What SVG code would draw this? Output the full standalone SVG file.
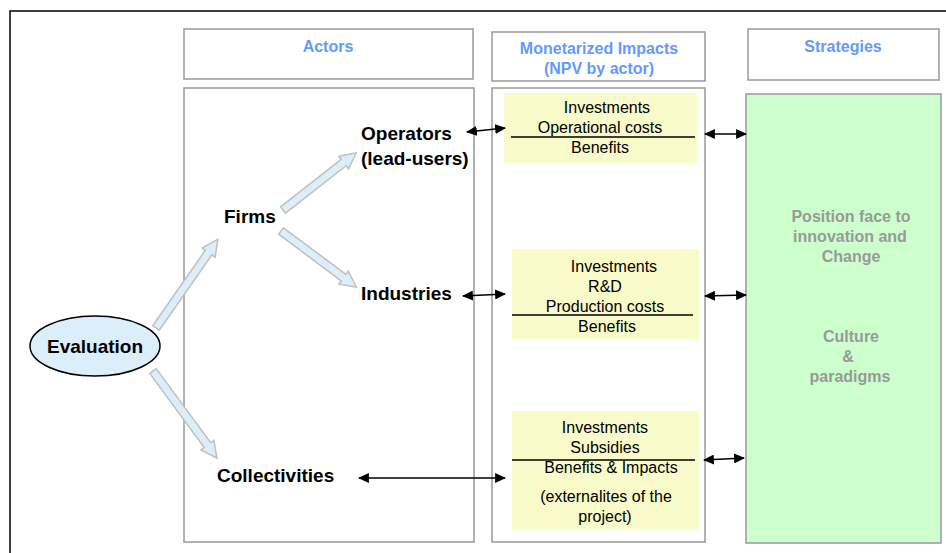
<svg xmlns="http://www.w3.org/2000/svg" width="946" height="553" viewBox="0 0 946 553">
<defs>
<style>
.box{fill:#fff;stroke:#999;stroke-width:1.5}
.hdr{font-family:"Liberation Sans",Arial,sans-serif;font-weight:bold;font-size:16px;fill:#6699ff;text-anchor:middle}
.act{font-family:"Liberation Sans",Arial,sans-serif;font-weight:bold;font-size:19px;fill:#000}
.yel{fill:#f9fbca}
.imp{font-family:"Liberation Sans",Arial,sans-serif;font-size:16px;fill:#000;text-anchor:middle}
.str{font-family:"Liberation Sans",Arial,sans-serif;font-weight:bold;font-size:16px;fill:#999;text-anchor:middle}
.blk{fill:#dceefa;stroke:#c0c0c0;stroke-width:1.5}
.con{stroke:#000;stroke-width:1.5;fill:none;marker-start:url(#ah);marker-end:url(#ah)}
.rule{stroke:#000;stroke-width:1.5}
</style>
<marker id="ah" viewBox="0 0 10 9" refX="9" refY="4.5" markerWidth="11" markerHeight="10" orient="auto-start-reverse" markerUnits="userSpaceOnUse">
<path d="M0,0 L10,4.5 L0,9 Z" fill="#000"/>
</marker>
</defs>
<rect x="0" y="0" width="946" height="553" fill="#fff"/>
<path d="M10,553 L10,11 L946,11" fill="none" stroke="#000" stroke-width="1.5"/>

<g id="actors-header"><rect class="box" x="184" y="29" width="289" height="50"/><text class="hdr" x="328" y="52">Actors</text></g>
<g id="actors-body"><rect class="box" x="184" y="88" width="290" height="454"/></g>
<g id="impacts-header"><rect class="box" x="492" y="32" width="213" height="49"/><text class="hdr" x="599" y="54">Monetarized Impacts</text><text class="hdr" x="599" y="74">(NPV by actor)</text></g>
<g id="impacts-body"><rect class="box" x="492" y="88" width="213" height="454"/></g>
<g id="strategies-header"><rect class="box" x="748" y="29" width="191" height="51"/><text class="hdr" x="843" y="52">Strategies</text></g>
<g id="strategies-body"><rect x="746" y="94" width="195" height="449" fill="#ccffcc" stroke="#999" stroke-width="1.5"/>
<text class="str" x="851" y="222">Position face to</text><text class="str" x="850" y="242">innovation and</text><text class="str" x="851" y="262">Change</text>
<text class="str" x="851" y="342">Culture</text><text class="str" x="848" y="362">&amp;</text><text class="str" x="850" y="382">paradigms</text></g>

<g id="impact-operators"><rect class="yel" x="504" y="93" width="193" height="70"/>
<text class="imp" x="607" y="113">Investments</text><text class="imp" x="600" y="133">Operational costs</text><line class="rule" x1="511" y1="137" x2="695" y2="137"/><text class="imp" x="600" y="153">Benefits</text></g>
<g id="impact-industries"><rect class="yel" x="512" y="249" width="187" height="90"/>
<text class="imp" x="614" y="272">Investments</text><text class="imp" x="605" y="292">R&amp;D</text><text class="imp" x="605" y="312">Production costs</text><line class="rule" x1="512" y1="315" x2="693" y2="315"/><text class="imp" x="607" y="332">Benefits</text></g>
<g id="impact-collectivities"><rect class="yel" x="512" y="411" width="187" height="118"/>
<text class="imp" x="605" y="433">Investments</text><text class="imp" x="605" y="453">Subsidies</text><line class="rule" x1="512" y1="460" x2="695" y2="460"/><text class="imp" x="611" y="473">Benefits &amp; Impacts</text><text class="imp" x="606" y="502">(externalites of the</text><text class="imp" x="605" y="522">project)</text></g>

<g id="evaluation"><ellipse cx="95" cy="346" rx="65" ry="30" fill="#dceefa" stroke="#000" stroke-width="1.5"/><text class="act" x="95" y="353" text-anchor="middle">Evaluation</text></g>
<g id="firms"><text class="act" x="224" y="223">Firms</text></g>
<g id="operators"><text class="act" x="361" y="140">Operators</text><text class="act" x="361" y="165">(lead-users)</text></g>
<g id="industries"><text class="act" x="361" y="300">Industries</text></g>
<g id="collectivities"><text class="act" x="217" y="482">Collectivities</text></g>

<g id="connectors">
<path class="blk" transform="translate(156,328) rotate(-55.1)" d="M0,-4 L92,-4 L92,-8 L108,0 L92,8 L92,4 L0,4 Z"/>
<path class="blk" transform="translate(283,210) rotate(-38)" d="M0,-4 L77,-4 L77,-8 L93,0 L77,8 L77,4 L0,4 Z"/>
<path class="blk" transform="translate(281,231) rotate(36.7)" d="M0,-4 L78,-4 L78,-8 L94,0 L78,8 L78,4 L0,4 Z"/>
<path class="blk" transform="translate(153,371) rotate(53.7)" d="M0,-4 L92,-4 L92,-8 L108,0 L92,8 L92,4 L0,4 Z"/>
<line class="con" x1="467" y1="132" x2="505" y2="128"/>
<line class="con" x1="705" y1="134" x2="746" y2="134"/>
<line class="con" x1="463" y1="296" x2="505" y2="294"/>
<line class="con" x1="705" y1="296" x2="746" y2="295"/>
<line class="con" x1="359" y1="478" x2="505" y2="478"/>
<line class="con" x1="704" y1="460" x2="744" y2="458"/>
</g>
</svg>
